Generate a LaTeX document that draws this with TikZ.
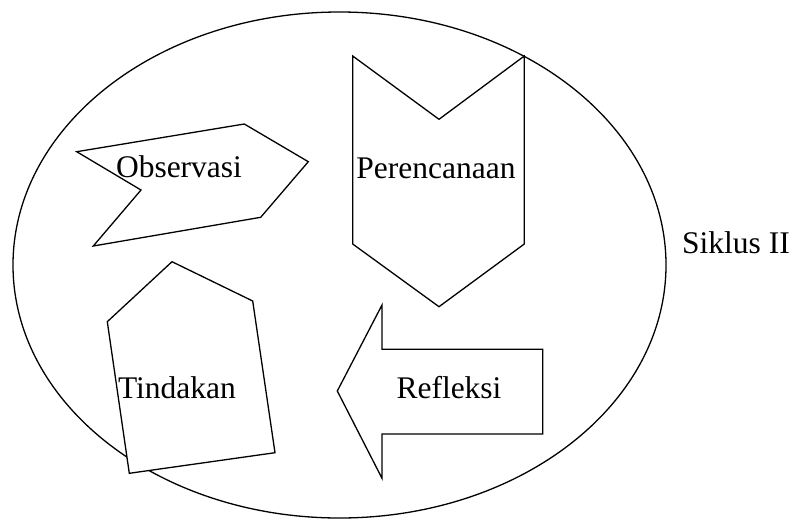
\documentclass[tikz,border=0pt]{standalone}
\usepackage{fontspec}
\setmainfont{Liberation Serif}
\begin{document}
\begin{tikzpicture}[x=1pt,y=-1pt,
  shp/.style={draw=black,line width=1.3pt,line join=miter},
  lbl/.style={inner sep=0pt,font=\fontsize{31.5}{36}\selectfont}]
\useasboundingbox (0,0) rectangle (793,531);
% cycle ellipse
\draw[shp] (339.5,265) ellipse [x radius=326.5, y radius=253];
% Observasi
\draw[shp,fill=white] (76.7,151.7) -- (244.3,124) -- (308.3,161.7) -- (260.7,217.3) -- (93.3,246) -- (141,190) -- cycle;
% Perencanaan
\draw[shp,fill=white] (352.7,56) -- (439,119.3) -- (524.3,56) -- (524.3,244) -- (439,306.7) -- (352.7,244) -- cycle;
% Tindakan
\draw[shp,fill=white] (172,261.7) -- (252.7,301) -- (275,452.7) -- (129.3,473.3) -- (107.3,321.7) -- cycle;
% Refleksi
\draw[shp,fill=white] (337.3,391) -- (382,305) -- (382,349.3) -- (542.7,349.3) -- (542.7,434) -- (382,434) -- (382,478.3) -- cycle;
\node[lbl] (obs) at (179,167) {Observasi};
\node[lbl] (per) at (436,168) {Perencanaan};
\node[lbl] (tin) at (177,388) {Tindakan};
\node[lbl] (ref) at (449,388) {Refleksi};
\node[lbl] (sik) at (736,243) {Siklus II};
\end{tikzpicture}
\end{document}
